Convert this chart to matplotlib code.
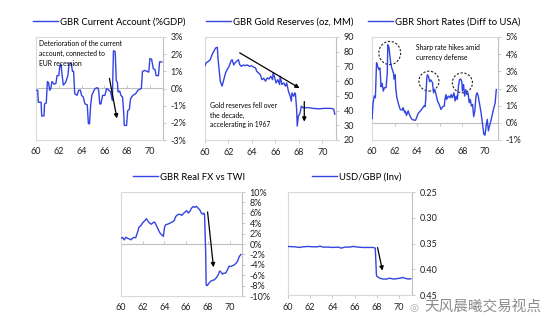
import matplotlib
matplotlib.use("Agg")
from matplotlib import pyplot as plt
from matplotlib.patches import Ellipse
from matplotlib.ticker import FuncFormatter

# GBR current account (% of GDP)
ca_year = [59.9, 60.15, 60.2, 60.45, 60.5, 60.7, 60.75, 60.9, 61.0, 61.1, 61.2, 61.3, 61.4, 61.6,
           61.75, 61.85, 62.0, 62.1, 62.2, 62.3, 62.4, 62.6, 62.8, 62.9, 63.1, 63.2, 63.3, 63.4,
           63.6, 63.75, 63.9, 64.0, 64.15, 64.3, 64.5, 64.6, 64.7, 64.8, 64.9, 65.1, 65.2, 65.4,
           65.5, 65.6, 65.7, 65.85, 66.05, 66.2, 66.4, 66.55, 66.7, 66.8, 66.95, 67.05, 67.15,
           67.2, 67.35, 67.45, 67.6, 67.7, 67.75, 67.95, 68.05, 68.2, 68.3, 68.5, 68.75, 68.95,
           69.1, 69.25, 69.35, 69.55, 69.75, 69.9, 70.0, 70.15, 70.3, 70.45, 70.55, 70.75, 70.85,
           71.05]
ca_val = [-0.1, -0.1, -0.8, -0.8, -1.6, -1.6, -0.9, -0.85, 0.4, 0.35, -0.1, 0.0, 0.4, 0.25,
          0.3, 0.75, 0.75, 1.35, 1.4, 0.75, 0.2, 0.35, 0.75, 1.45, 1.45, 1.0, 1.0, -0.3,
          -0.4, -0.1, -0.1, -0.4, -0.5, -0.9, -0.95, -2.05, -2.05, -0.95, -0.4, -0.1, 0.0, 0.05,
          -0.1, -0.9, -0.9, -0.4, -0.4, 0.0, -0.1, -0.2, -0.7, 2.2, 2.15, 0.45, 0.35,
          -0.2, -0.15, -0.4, -0.5, -1.4, -2.15, -2.15, -1.3, -1.2, -0.6, -0.4, -0.3, -0.1,
          -0.05, 0.0, 1.0, 1.05, 1.0, 0.95, 1.75, 1.7, 1.15, 1.1, 0.75, 0.75, 1.55,
          1.55]

# GBR gold reserves (oz, MM)
gold_year = [59.8, 59.95, 60.1, 60.3, 60.45, 60.6, 60.75, 60.9, 61.05, 61.1, 61.2, 61.3, 61.45,
             61.6, 61.75, 61.9, 62.05, 62.2, 62.3, 62.45, 62.55, 62.7, 62.85, 62.95, 63.1, 63.25,
             63.4, 63.6, 63.8, 63.95, 64.1, 64.3, 64.4, 64.55, 64.7, 64.85, 65.0, 65.15, 65.3,
             65.45, 65.6, 65.75, 65.8, 65.9, 66.05, 66.2, 66.35, 66.4, 66.55, 66.7, 66.85, 66.95,
             67.1, 67.25, 67.35, 67.4, 67.55, 67.65, 67.7, 67.8, 67.85, 67.95, 68.1, 68.2, 68.35,
             68.6, 68.8, 69.3, 69.7, 70.15, 70.7, 70.95, 71.05]
gold_val = [69.7, 69.7, 72.4, 73.5, 74.6, 78, 80.3, 82.5, 83.0, 76, 68, 60, 56.6,
            61, 65.6, 68, 70, 73.5, 74.6, 71, 72.4, 73.5, 74.6, 71.3, 70, 71,
            70.5, 71, 70, 70.5, 69.7, 69, 66.7, 65.6, 64.5, 61, 62, 60, 62.2,
            61.5, 63.3, 61, 65.6, 63.3, 58.8, 61, 57.7, 63.3, 57.7, 58.8, 56.6, 58.8,
            53.2, 49.8, 46.4, 52, 49.8, 52, 51, 40.8, 29.5, 36.2, 38.5, 43, 41.9,
            42, 42, 41.4, 41.2, 41.5, 41.5, 41.0, 37.5]

# GBR short rates, difference to USA (%)
sr_year = [59.9, 60.0, 60.1, 60.2, 60.3, 60.4, 60.5, 60.6, 60.7, 60.75, 60.8, 60.9, 61.0, 61.1,
           61.25, 61.35, 61.4, 61.5, 61.65, 61.75, 61.9, 61.95, 62.05, 62.1, 62.2, 62.4, 62.5,
           62.7, 62.75, 62.9, 62.95, 63.05, 63.2, 63.3, 63.4, 63.55, 63.7, 63.85, 63.95, 64.05,
           64.15, 64.3, 64.45, 64.6, 64.7, 64.75, 64.85, 64.9, 65.0, 65.1, 65.2, 65.35, 65.45,
           65.55, 65.7, 65.8, 65.95, 66.1, 66.25, 66.4, 66.45, 66.55, 66.6, 66.75, 66.9, 67.0,
           67.1, 67.25, 67.35, 67.45, 67.55, 67.65, 67.75, 67.85, 67.95, 68.0, 68.1, 68.2, 68.3,
           68.4, 68.5, 68.6, 68.7, 68.8, 68.9, 69.0, 69.1, 69.2, 69.3, 69.4, 69.5, 69.65, 69.8,
           69.9, 70.0, 70.1, 70.2, 70.3, 70.4, 70.55, 70.65, 70.75, 70.9, 71.0]
sr_val = [0.43, 0.24, 1.17, 1.56, 1.46, 3.5, 3.3, 3.1, 3.2, 2.7, 2.1, 2.3, 1.85, 2.05,
          2.05, 2.9, 4.55, 4.4, 3.5, 3.2, 2.9, 2.55, 2.8, 2.05, 1.46, 0.97, 0.78,
          0.74, 0.88, 0.6, 0.68, 0.43, 0.7, 0.5, 0.35, 0.2, 0.16, 0.15, 0.3, 0.5,
          0.6, 0.7, 0.84, 0.98, 0.94, 1.36, 2.6, 2.8, 2.7, 2.4, 2.5, 2.35, 1.75,
          1.95, 1.56, 1.27, 1.07, 0.78, 0.94, 0.98, 1.36, 1.65, 1.36, 1.56, 1.46, 1.65,
          1.46, 1.75, 1.27, 1.56, 1.36, 2.13, 2.52, 2.55, 2.4, 1.85, 2.23, 1.56, 1.94,
          1.65, 1.75, 1.17, 1.36, 0.98, 1.07, 0.36, 0.7, 1.56, 1.75, 1.56, 1.17, 0.6, -0.18,
          -0.67, -0.72, -0.18, 0.2, -0.47, -0.18, 0.2, 0.5, 0.78, 1.17, 1.94]

# GBR real FX vs TWI (%)
fx_year = [60.0, 60.15, 60.3, 60.45, 60.6, 60.75, 60.9, 61.15, 61.35, 61.55, 61.65, 61.85, 62.05,
           62.2, 62.35, 62.5, 62.65, 62.8, 63.0, 63.1, 63.3, 63.45, 63.6, 63.75, 63.9, 64.0,
           64.1, 64.3, 64.5, 64.7, 64.9, 65.05, 65.2, 65.4, 65.6, 65.7, 65.9, 66.05, 66.2,
           66.35, 66.5, 66.65, 66.8, 66.95, 67.1, 67.25, 67.4, 67.55, 67.65, 67.7, 67.8, 67.85,
           67.95, 68.1, 68.25, 68.4, 68.6, 68.8, 68.95, 69.1, 69.25, 69.35, 69.5, 69.65, 69.8,
           69.95, 70.15, 70.3, 70.45, 70.6, 70.75, 70.9, 71.05]
fx_val = [1.1, 1.25, 0.8, 1.3, 1.1, 1.0, 0.8, 1.26, 1.2, 2.4, 3.2, 3.6, 4.2,
          4.5, 4.86, 4.35, 4.0, 3.8, 4.2, 4.2, 3.4, 2.7, 2.1, 1.78, 1.45, 3.06,
          3.7, 3.8, 4.0, 4.2, 4.5, 5.3, 5.6, 5.75, 5.5, 5.75, 6.15, 6.4, 5.95,
          6.3, 6.9, 7.2, 7.05, 7.25, 6.9, 6.6, 5.95, 5.75, 5.95, 5.6, -1.4, -7.9,
          -8.0, -7.55, -7.2, -7.0, -6.9, -6.45, -5.95, -5.2, -5.45, -5.8, -5.6, -5.6, -5.0,
          -4.3, -4.3, -4.15, -4.0, -3.7, -3.25, -2.4, -2.0]

# USD/GBP (inverted axis)
fxr_year = [60.0, 60.6, 61.05, 61.35, 61.8, 62.25, 62.7, 62.85, 63.15, 63.6, 64.05, 64.5, 64.8,
            65.1, 65.55, 65.85, 66.3, 66.75, 67.2, 67.65, 67.85, 67.95, 68.0, 68.25, 68.55,
            68.85, 69.15, 69.45, 69.75, 70.05, 70.3, 70.5, 70.8, 71.05]
fxr_val = [0.3558, 0.3564, 0.3577, 0.3564, 0.3558, 0.3564, 0.3564, 0.355, 0.357, 0.357, 0.3577,
           0.357, 0.359, 0.357, 0.357, 0.3558, 0.357, 0.3577, 0.3577, 0.3577, 0.359, 0.411,
           0.414, 0.4174, 0.419, 0.419, 0.4174, 0.419, 0.4184, 0.4174, 0.416, 0.4174, 0.419,
           0.4184]

years = [60, 62, 64, 66, 68, 70]

W, H = 554, 329
BLUE = '#3344e0'
BOX = '#d9d9d9'
AXC = '#bfbfbf'
FS = 6.5
NOTE = 4.9

plt.rcParams['font.family'] = ['Lato', 'DejaVu Sans']
fig = plt.figure(figsize=(W / 100, H / 100), dpi=100)


def panel(x0, y0, x1, y1, xs, ys, label, yticks, fmt, leg_x, zero=None, invert=False):
    ax = fig.add_axes([x0 / W, 1 - y1 / H, (x1 - x0) / W, (y1 - y0) / H])
    line, = ax.plot(xs, ys, color=BLUE, lw=1.0, zorder=3)
    ax.set_xlim(60, 71.15)
    ax.set_ylim(yticks[0], yticks[-1])
    if invert:
        ax.invert_yaxis()
    ax.set_yticks(yticks)
    ax.yaxis.set_major_formatter(FuncFormatter(fmt))
    ax.yaxis.tick_right()
    ax.set_xticks(years)
    ax.set_xticklabels([str(y) for y in years])
    for s in ax.spines.values():
        s.set_color(BOX)
        s.set_linewidth(0.8)
    ax.spines['right'].set_color(AXC)
    ax.tick_params(axis='y', colors=AXC, labelcolor='#222222', labelsize=FS,
                   length=2.5, width=0.6, pad=3)
    if zero is None:
        ax.tick_params(axis='x', colors=AXC, labelcolor='#222222', labelsize=FS,
                       length=2.5, width=0.6, pad=3)
    else:
        ax.tick_params(axis='x', length=0, labelcolor='#222222', labelsize=FS, pad=5)
        sec = ax.secondary_xaxis((zero - yticks[0]) / (yticks[-1] - yticks[0]))
        sec.set_xticks(years)
        sec.set_xticklabels([])
        for s in sec.spines.values():
            s.set_color(AXC)
            s.set_linewidth(0.8)
        sec.tick_params(axis='x', colors=AXC, length=2.5, width=0.6)
    ax.legend([line], [label], loc='center left', frameon=False, fontsize=FS + 0.3,
              bbox_to_anchor=((leg_x - x0) / (x1 - x0), 1 + (y0 - (22 if y0 < 100 else 177)) / (y1 - y0)),
              handlelength=2.6, handletextpad=0.3, borderpad=0, borderaxespad=0)
    return ax


def pct(v, _):
    return '%d%%' % round(v)


arrow = dict(arrowstyle='-|>', color='black', lw=0.9, mutation_scale=6)

ax1 = panel(36, 37, 163, 140, ca_year, ca_val, 'GBR Current Account (%GDP)',
            [-3, -2, -1, 0, 1, 2, 3], pct, 33, zero=0)
ax1.text(0.02, 0.97, 'Deterioration of the current\naccount, connected to\nEUR recession',
         transform=ax1.transAxes, fontsize=NOTE, va='top', ha='left', linespacing=1.45)
ax1.annotate('', xy=(67.15, -1.9), xytext=(66.4, 0.75), arrowprops=arrow)

ax2 = panel(205, 37, 336, 140, gold_year, gold_val, 'GBR Gold Reserves (oz, MM)',
            [20, 30, 40, 50, 60, 70, 80, 90], lambda v, _: '%d' % v, 206)
ax2.text(0.04, 0.37, 'Gold reserves fell over\nthe decade,\naccelerating in 1967',
         transform=ax2.transAxes, fontsize=NOTE, va='top', ha='left', linespacing=1.45)
ax2.annotate('', xy=(68.25, 54.3), xytext=(62.75, 80.2), arrowprops=arrow)
ax2.annotate('', xy=(68.45, 30.6), xytext=(68.45, 48), arrowprops=arrow)

ax3 = panel(372, 37, 498, 140, sr_year, sr_val, 'GBR Short Rates (Diff to USA)',
            [-1, 0, 1, 2, 3, 4, 5], pct, 368, zero=0)
ax3.text(0.35, 0.93, 'Sharp rate hikes amid\ncurrency defense',
         transform=ax3.transAxes, fontsize=NOTE, va='top', ha='left', linespacing=1.45)
for cx, cy, w, h in [(61.57, 4.07, 1.93, 1.35), (65.04, 2.43, 1.78, 1.16), (68.0, 2.33, 1.78, 1.16)]:
    ax3.add_patch(Ellipse((cx, cy), w, h, fill=False, ls=(0, (2, 1.5)), lw=0.8, color='#222222'))

ax4 = panel(121, 192, 242, 296, fx_year, fx_val, 'GBR Real FX vs TWI',
            [-10, -8, -6, -4, -2, 0, 2, 4, 6, 8, 10], pct, 133, zero=0)
ax4.annotate('', xy=(68.55, -5.0), xytext=(67.95, 6.7), arrowprops=arrow)

ax5 = panel(288, 192, 412, 295, fxr_year, fxr_val, 'USD/GBP (Inv)',
            [0.25, 0.30, 0.35, 0.40, 0.45], lambda v, _: '%.2f' % v, 312, invert=True)
ax5.annotate('', xy=(68.55, 0.408), xytext=(68.0, 0.3525), arrowprops=arrow)

fig.text(424 / W, 1 - 308 / H, '天风晨曦交易视点', fontsize=10.5, color='#8c8c8c',
         family=['Noto Sans CJK SC', 'DejaVu Sans'], va='center', ha='left')
fig.text(409 / W, 1 - 308 / H, '◎', fontsize=7.5, color='#a6a6a6', va='center', ha='left',
         family=['DejaVu Sans'])

fig.savefig('out.png', dpi=100)
